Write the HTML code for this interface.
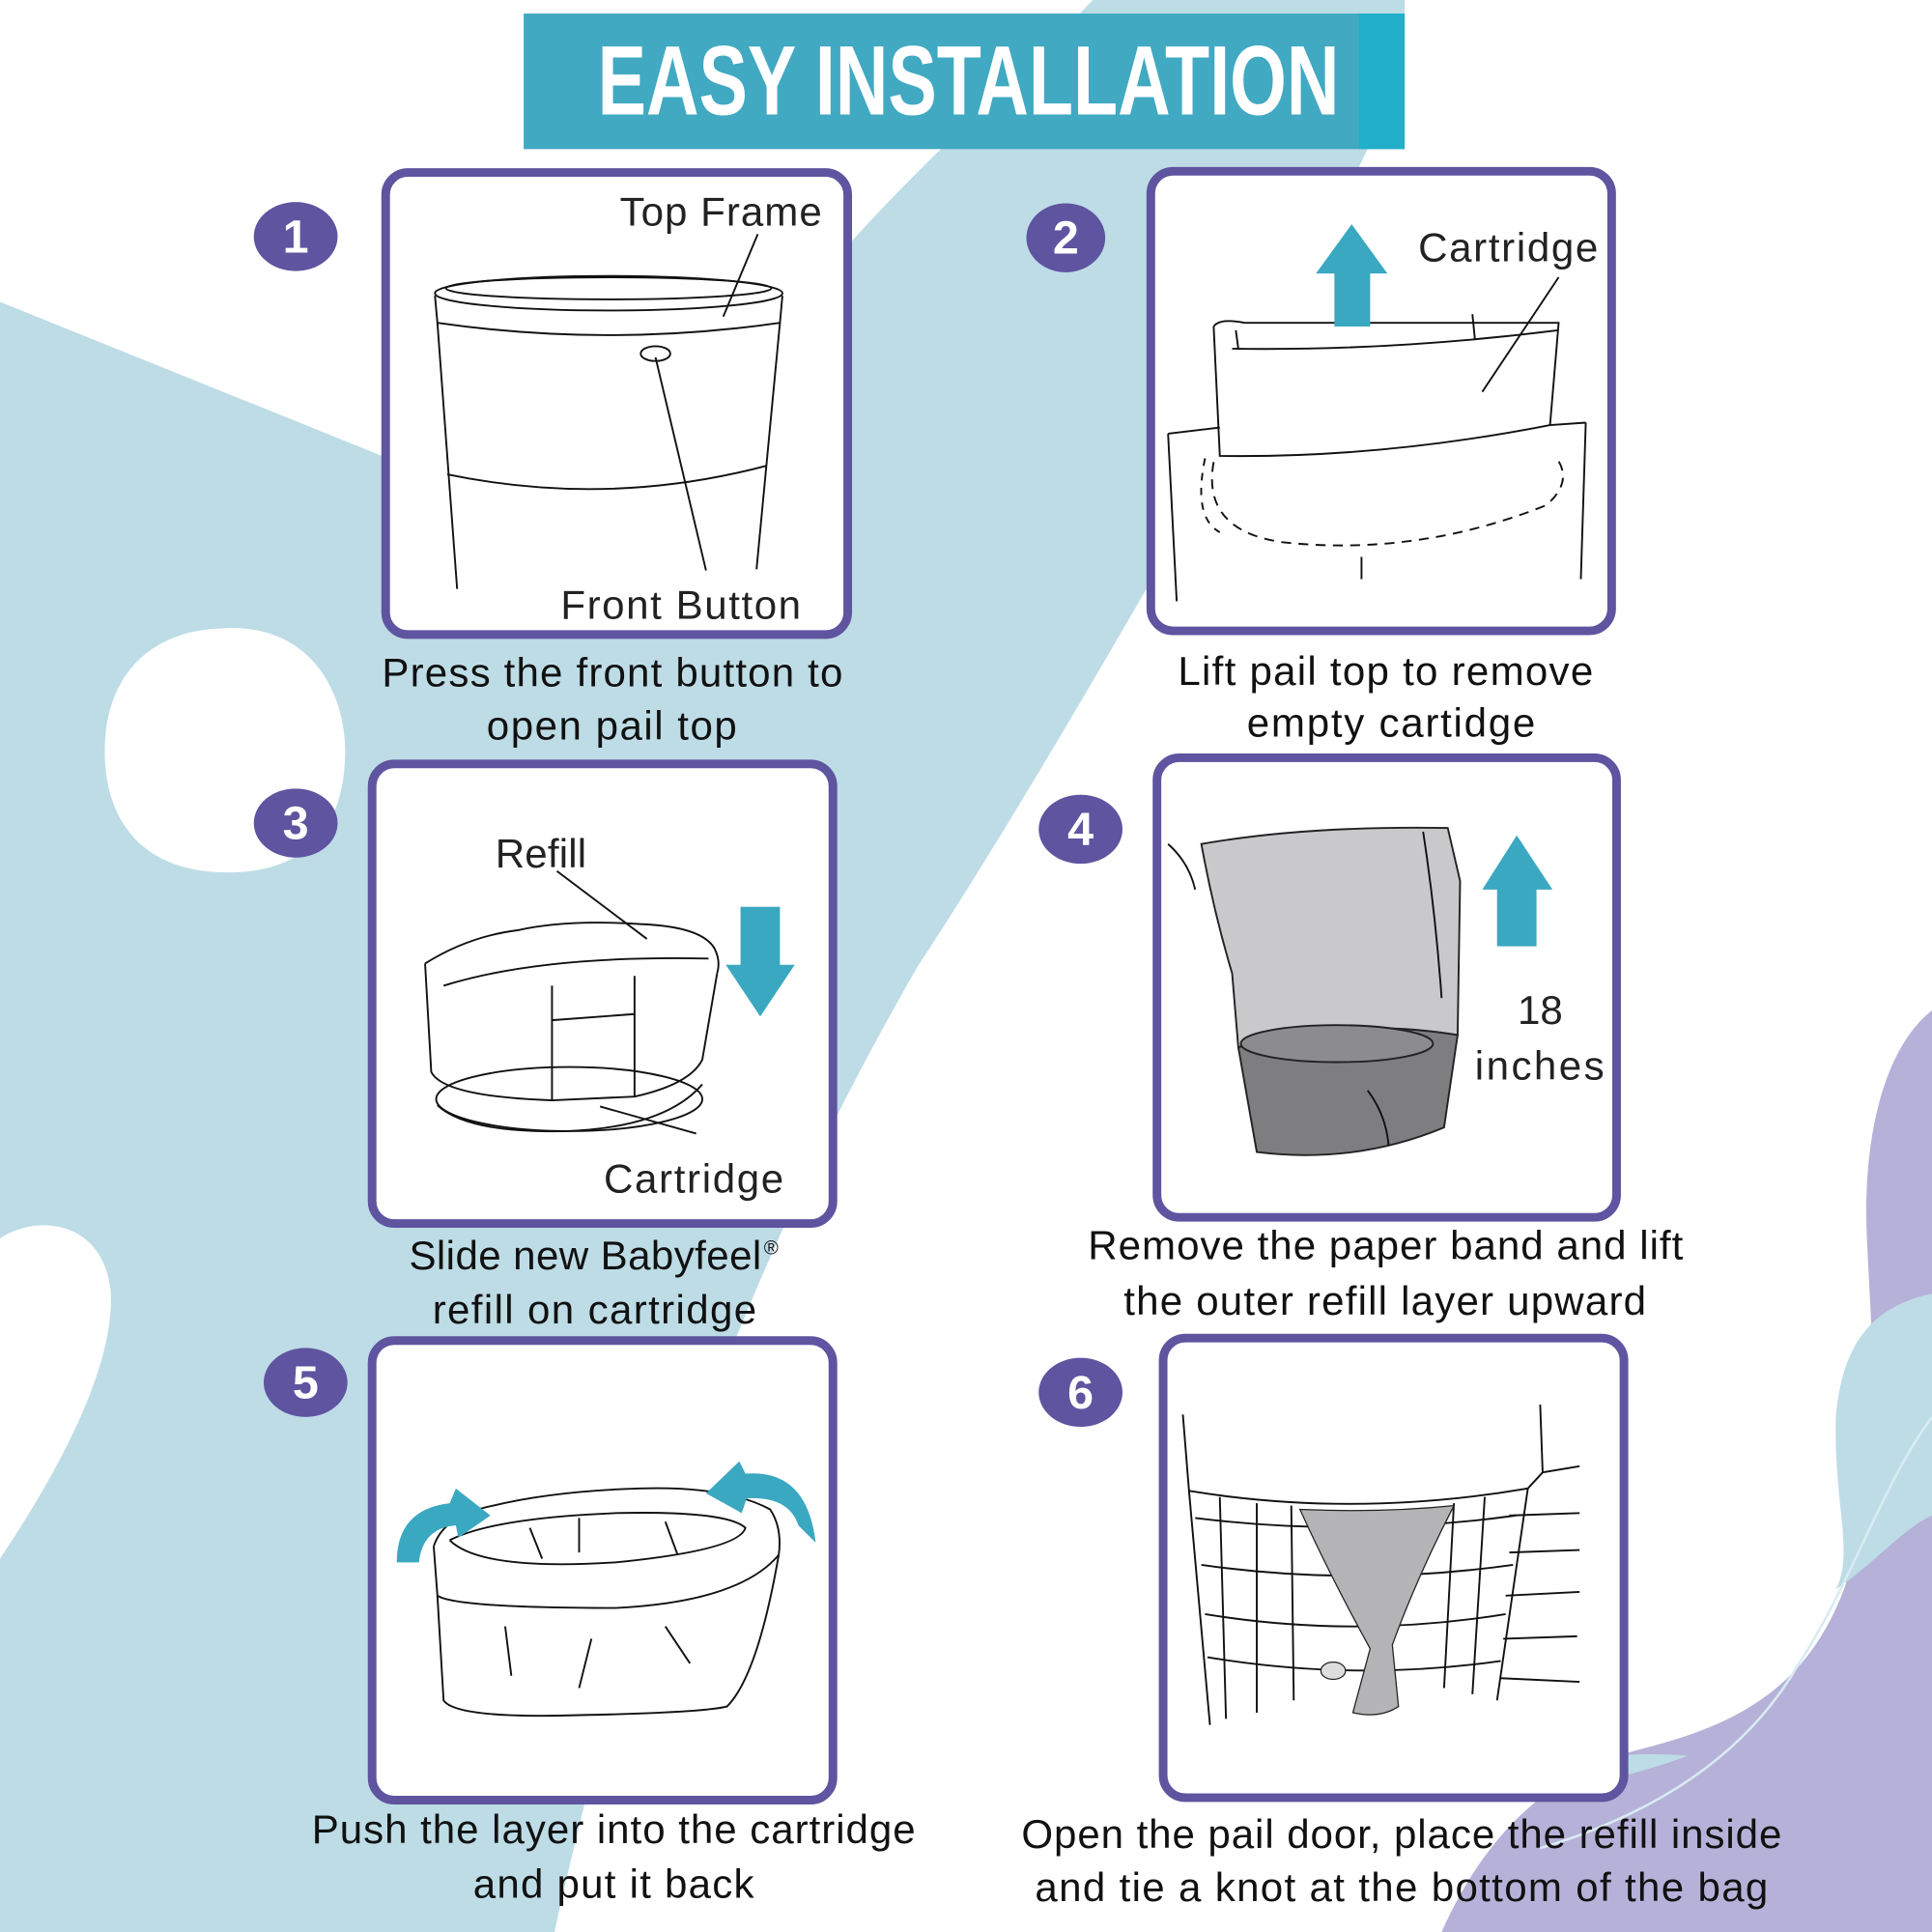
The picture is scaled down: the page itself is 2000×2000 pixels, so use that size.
<!DOCTYPE html>
<html><head><meta charset="utf-8"><style>
html,body{margin:0;padding:0;background:#fff;}
svg{display:block;}
.cap{font-family:"Liberation Sans",sans-serif;font-size:33px;fill:#111;}
.lbl{font-family:"Liberation Sans",sans-serif;font-size:33px;fill:#222;}
.num{font-family:"Liberation Sans",sans-serif;font-weight:bold;font-size:38px;fill:#fff;}
.ln{fill:none;stroke:#111;stroke-width:1.5;}
</style></head><body>
<svg width="2000" height="2000" viewBox="0 0 1568 1568" xmlns="http://www.w3.org/2000/svg">
<rect width="1568" height="1568" fill="#fff"/>
<path d="M0,245 L310,370 L600,400 C640,360 670,320 692,195 C760,120 830,60 887,0 L1140,0 L1140,60 C1060,220 1000,360 935,470 C860,600 800,700 745,784 C620,1000 520,1250 450,1568 L0,1568 Z" fill="#bddce6"/>
<path d="M887,0 C830,60 760,120 692,195 C660,240 640,300 600,400 L700,400 Z" fill="#bddce6"/>
<path d="M180,510 C250,505 282,560 280,615 C278,680 240,710 180,708 C110,706 85,660 85,610 C85,550 120,512 180,510 Z" fill="#fff"/>
<path d="M0,1005 C30,985 85,990 90,1050 C92,1110 50,1190 0,1265 Z" fill="#fff"/>
<path d="M1568,820 C1530,850 1512,920 1515,1000 C1518,1080 1530,1180 1500,1280 C1470,1370 1410,1400 1330,1420 C1250,1440 1200,1500 1170,1568 L1568,1568 Z" fill="#b6b1d8"/>
<path d="M1568,1050 C1520,1060 1495,1090 1490,1150 C1488,1220 1505,1260 1490,1290 C1520,1270 1545,1240 1568,1230 Z" fill="#bddce6"/>
<path d="M1180,1460 C1240,1430 1310,1420 1370,1425 C1330,1440 1280,1450 1250,1460 Z" fill="#bddce6"/>
<path d="M1568,1150 C1530,1200 1500,1290 1460,1350 C1420,1420 1350,1470 1250,1500" fill="none" stroke="#d8ecf2" stroke-width="2"/>
<rect x="425" y="11" width="715" height="110" fill="#41a9c2"/>
<rect x="1103" y="11" width="37" height="110" fill="#21afca"/>
<text x="485" y="93" font-family="'Liberation Sans Narrow','Liberation Sans',sans-serif" font-weight="bold" font-size="80" fill="#fff" textLength="602" lengthAdjust="spacingAndGlyphs">EASY INSTALLATION</text>

<g fill="#fff" stroke="#5f54a0" stroke-width="7">
<rect x="313" y="140" width="375" height="375" rx="18"/>
<rect x="934" y="139" width="374" height="373" rx="18"/>
<rect x="302" y="620" width="374" height="373" rx="18"/>
<rect x="939" y="615" width="373" height="373" rx="18"/>
<rect x="302" y="1088" width="374" height="373" rx="18"/>
<rect x="944" y="1086" width="374" height="373" rx="18"/>
</g>
<g fill="#5f54a0">
<ellipse cx="240" cy="192" rx="34" ry="28"/>
<ellipse cx="865" cy="193" rx="32" ry="28"/>
<ellipse cx="240" cy="668" rx="34" ry="28"/>
<ellipse cx="877" cy="673" rx="34" ry="28"/>
<ellipse cx="248" cy="1122" rx="34" ry="28"/>
<ellipse cx="877" cy="1130" rx="34" ry="28"/>
</g>
<g class="num" text-anchor="middle">
<text x="240" y="205">1</text><text x="865" y="206">2</text>
<text x="240" y="681">3</text><text x="877" y="686">4</text>
<text x="248" y="1135">5</text><text x="877" y="1143">6</text>
</g>

<g class="ln">
<ellipse cx="494" cy="238" rx="141" ry="14"/>
<ellipse cx="494" cy="234" rx="132" ry="9"/>
<path d="M353,240 L355,262 Q494,282 633,262 L635,240"/>
<path d="M355,262 L371,478 M633,262 L614,462"/>
<path d="M363,385 Q494,412 622,378"/>
<ellipse cx="532" cy="287" rx="12" ry="6"/>
<path d="M532,290 L573,463 M615,190 L587,257"/>
</g>
<text class="lbl" x="503" y="183" textLength="164">Top Frame</text>
<text class="lbl" x="455" y="502" textLength="195">Front Button</text>

<g class="ln">
<path d="M985,265 Q990,258 1010,262 L1265,262 L1258,345"/>
<path d="M985,265 L990,370 Q1120,372 1258,345"/>
<path d="M1000,283 Q1130,285 1265,268"/>
<path d="M1003,268 L1005,283 M1195,255 L1197,275"/>
<path d="M948,352 L990,347 M1258,345 L1287,343 M948,352 L955,488 M1287,343 L1283,470"/>
<path d="M1265,225 L1203,318 M1105,452 L1105,470"/>
<path d="M985,375 Q975,430 1040,440 Q1150,452 1255,410 Q1278,390 1262,370" stroke-dasharray="8 6"/>
<path d="M978,372 Q968,420 990,432" stroke-dasharray="6 6"/>
</g>
<path d="M1068,222 L1097,182 L1126,222 L1112,222 L1112,265 L1083,265 L1083,222 Z" fill="#3aa8c0"/>
<text class="lbl" x="1151" y="212" textLength="146">Cartridge</text>

<g class="ln">
<path d="M345,782 Q380,760 420,755 Q460,746 520,750 Q570,752 580,770 Q585,780 582,790"/>
<path d="M360,800 Q440,775 575,778"/>
<path d="M345,782 L350,870 Q360,890 448,893 L515,890 Q560,880 570,860 L582,790"/>
<path d="M448,800 L448,893 M515,792 L515,890 M448,828 L515,823"/>
<ellipse cx="462" cy="892" rx="108" ry="26"/>
<path d="M355,897 Q380,920 460,918 Q540,915 570,880"/>
<path d="M452,707 L525,762 M487,898 L565,920"/>
</g>
<path d="M601,736 L633,736 L633,783 L645,783 L617,825 L589,783 L601,783 Z" fill="#3aa8c0"/>
<text class="lbl" x="402" y="704" textLength="74">Refill</text>
<text class="lbl" x="490" y="968" textLength="146">Cartridge</text>

<path d="M975,685 Q1060,670 1175,672 L1185,715 L1183,840 Q1090,828 1005,850 L1000,790 Q985,740 975,685 Z" fill="#c9c9cb" stroke="#222" stroke-width="1.5"/>
<path d="M1005,850 Q1090,825 1183,840 L1172,915 Q1100,945 1020,935 Z" fill="#7e7e80" stroke="#222" stroke-width="1.5"/>
<ellipse cx="1085" cy="847" rx="78" ry="15" fill="#8c8c8e" stroke="#222" stroke-width="1.5"/>
<g class="ln"><path d="M1155,675 Q1165,740 1170,810 M948,685 Q965,700 970,722 M1110,885 Q1125,905 1127,930"/></g>
<path d="M1203,722 L1231,678 L1260,722 L1247,722 L1247,768 L1215,768 L1215,722 Z" fill="#3aa8c0"/>
<text class="lbl" x="1250" y="831" text-anchor="middle">18</text>
<text class="lbl" x="1197" y="876" textLength="105">inches</text>

<g class="ln">
<path d="M352,1255 Q360,1230 400,1222 Q450,1210 520,1208 Q590,1206 625,1225 Q635,1240 632,1262"/>
<path d="M365,1250 Q400,1232 500,1228 Q590,1226 605,1240 Q600,1258 500,1268 Q390,1275 365,1250"/>
<path d="M352,1255 L355,1295 Q370,1305 500,1305 Q600,1300 632,1262"/>
<path d="M355,1295 L360,1380 Q370,1395 470,1392 Q570,1390 590,1385 Q615,1360 632,1262"/>
<path d="M430,1240 L440,1265 M470,1232 L470,1260 M540,1235 L550,1262 M410,1320 L415,1360 M480,1330 L470,1370 M540,1320 L560,1350"/>
</g>
<path d="M322,1268 Q322,1225 365,1220 L370,1208 L398,1230 L372,1248 L370,1238 Q343,1240 340,1268 Z" fill="#3aa8c0"/>
<path d="M662,1252 Q655,1192 605,1196 L600,1186 L573,1212 L602,1228 L606,1216 Q640,1214 648,1238 Z" fill="#3aa8c0"/>

<g class="ln">
<path d="M960,1148 L965,1210 Q1100,1232 1240,1208 L1252,1195 L1250,1140"/>
<path d="M965,1210 L982,1400 M1240,1208 L1215,1380 M1252,1195 L1282,1190"/>
<path d="M970,1232 Q1100,1248 1230,1230 M975,1270 Q1100,1288 1228,1270 M978,1310 Q1100,1330 1222,1310 M980,1345 Q1100,1365 1218,1348"/>
<path d="M990,1215 L995,1395 M1020,1220 L1020,1390 M1048,1222 L1050,1380 M1180,1220 L1172,1370 M1205,1215 L1195,1375"/>
<path d="M1225,1230 L1282,1228 M1225,1260 L1282,1258 M1222,1295 L1282,1292 M1220,1330 L1280,1328 M1218,1362 L1282,1365"/>
</g>
<path d="M1055,1225 Q1120,1228 1180,1222 Q1150,1280 1130,1335 L1135,1385 Q1120,1395 1098,1390 L1112,1338 Q1080,1280 1055,1225 Z" fill="#b4b4b6" stroke="#222" stroke-width="1"/>
<ellipse cx="1082" cy="1356" rx="10" ry="7" fill="#ddd" stroke="#222" stroke-width="1"/>

<g class="cap" lengthAdjust="spacingAndGlyphs">
<text x="310" y="557" textLength="374">Press the front button to</text>
<text x="395" y="600" textLength="203">open pail top</text>
<text x="956" y="556" textLength="337">Lift pail top to remove</text>
<text x="1012" y="598" textLength="234">empty cartidge</text>
<text x="332" y="1030" textLength="286">Slide new Babyfeel</text>
<text x="620" y="1018" font-size="16">®</text>
<text x="351" y="1074" textLength="263">refill on cartridge</text>
<text x="883" y="1022" textLength="483">Remove the paper band and lift</text>
<text x="912" y="1067" textLength="424">the outer refill layer upward</text>
<text x="253" y="1496" textLength="490">Push the layer into the cartridge</text>
<text x="384" y="1540" textLength="228">and put it back</text>
<text x="829" y="1500" textLength="617">Open the pail door, place the refill inside</text>
<text x="840" y="1543" textLength="595">and tie a knot at the bottom of the bag</text>
</g>
</svg>
</body></html>
